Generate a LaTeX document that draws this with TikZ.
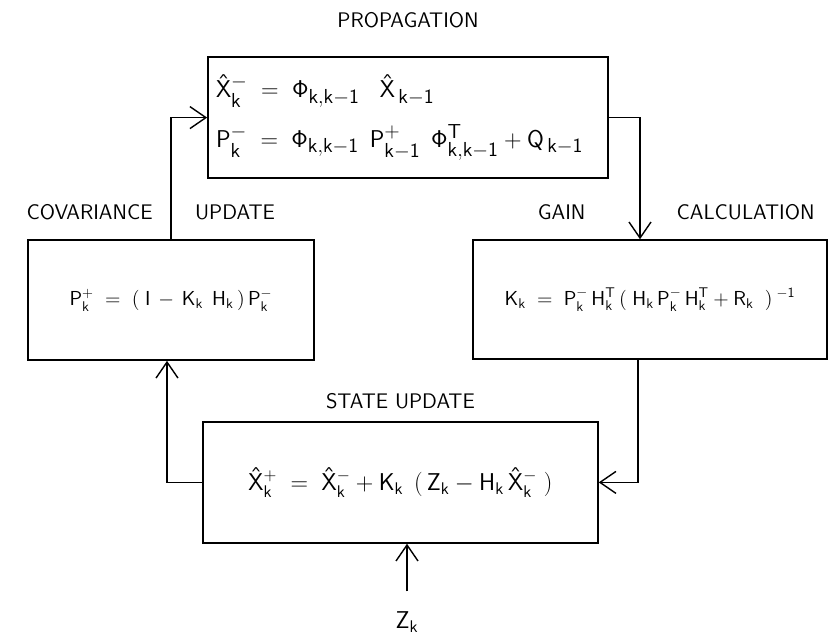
\documentclass[tikz,border=0pt]{standalone}
\usepackage{amsmath,amssymb}
\usetikzlibrary{arrows.meta,positioning}

\begin{document}
\begin{tikzpicture}[>={Straight Barb[length=4mm,width=5.5mm]},
    box/.style={rectangle, draw, line width=1.2pt, inner sep=4pt},
    lbl/.style={font=\sffamily\fontsize{15}{17}\selectfont, inner sep=0pt},
    bigf/.style={font=\fontsize{19}{35}\selectfont},
    midf/.style={font=\fontsize{17}{20}\selectfont},
    smallf/.style={font=\fontsize{14.5}{17}\selectfont},
    flow/.style={->, line width=1pt}]

\useasboundingbox (0,0) rectangle (20.725,-16);

\node [box, bigf, minimum width=10cm, minimum height=3.025cm, text width=9.6cm, align=left] (prop) at (10.2,-2.94)
  {$\mathsf{\hat{X}_k^{-} \;=\; \Phi_{k,k-1}\;\;\; \hat{X}_{\,k-1}}$\\
   $\mathsf{P_k^{-} \;=\; \Phi_{k,k-1}\;\, P_{k-1}^{+}\;\, \Phi_{k,k-1}^{T} + Q_{\,k-1}}$};
\node [box, smallf, minimum width=7.15cm, minimum height=3cm] (cov) at (4.275,-7.5)
  {$\mathsf{P_k^{+} \;=\; (\;I \,-\, K_k\;\, H_k\,)\, P_k^{-}}$};
\node [box, smallf, minimum width=8.85cm, minimum height=2.975cm] (gain) at (16.25,-7.49)
  {$\mathsf{K_k \;=\; P_k^{-}\, H_k^{T}\, (\;H_k\, P_k^{-}\, H_k^{T} + R_k\;\;)^{\;-1}}$};
\node [box, midf, minimum width=9.875cm, minimum height=3.025cm] (state) at (10.01,-12.06)
  {$\mathsf{\hat{X}_k^{+} \;=\; \hat{X}_k^{-} + K_k\;\, (\,Z_k - H_k\, \hat{X}_k^{-}\;)}$};

\node [lbl, above=7mm of prop] (proplbl) {PROPAGATION};
\node [lbl] (covlbl) at (2.24,-5.3) {COVARIANCE};
\node [lbl] (covlbl2) at (5.875,-5.3) {UPDATE};
\node [lbl] (gainlbl) at (14.04,-5.3) {GAIN};
\node [lbl] (gainlbl2) at (18.64,-5.3) {CALCULATION};
\node [lbl, above=3mm of state] (statelbl) {STATE UPDATE};
\node [lbl, midf] (zk) at (10.175,-15.55) {$\mathsf{Z_k}$};

\draw [flow] (cov.north) |- (prop.west);
\draw [flow] (prop.east) -| ([xshift=-2.5mm]gain.north);
\draw [flow] ([xshift=-3mm]gain.south) |- (state.east);
\draw [flow] (state.west) -| ([xshift=-1mm]cov.south);
\draw [flow, shorten <=5mm] (zk.north) -- (zk.north |- state.south);

\end{tikzpicture}
\end{document}
